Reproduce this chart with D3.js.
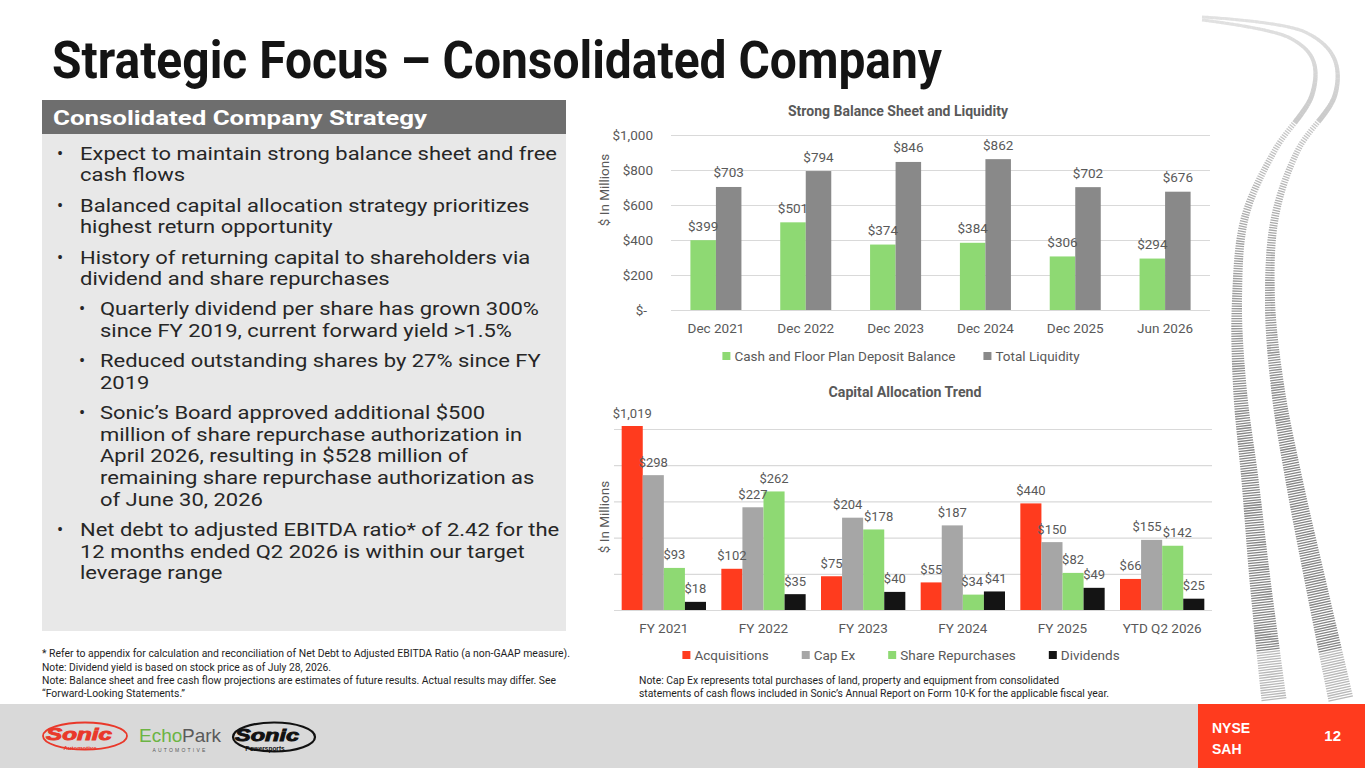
<!DOCTYPE html>
<html>
<head>
<meta charset="utf-8">
<script src="https://cdn.jsdelivr.net/npm/d3@7"></script>
<style>
    html, body { margin: 0; padding: 0; background: #fff; overflow: hidden; }
    svg { display: block; }
</style>
</head>
<body>
<svg id="slide" width="1365" height="768"></svg>
<script>
// ---- chart data ----
var balanceDates = ["Dec 2021", "Dec 2022", "Dec 2023", "Dec 2024", "Dec 2025", "Jun 2026"];
var cashDeposit = [399, 501, 374, 384, 306, 294];
var totalLiquidity = [703, 794, 846, 862, 702, 676];
var balanceTicks = [0, 200, 400, 600, 800, 1000];

var fiscalYears = ["FY 2021", "FY 2022", "FY 2023", "FY 2024", "FY 2025", "YTD Q2 2026"];
var acquisitions = [1019, 102, 75, 55, 440, 66];
var capEx = [298, 227, 204, 187, 150, 155];
var shareRepurchases = [93, 262, 178, 34, 82, 142];
var dividends = [18, 35, 40, 41, 49, 25];
var allocationTicks = [0, 80, 160, 240, 320, 400];

var strategyPoints = [
    { level: 0, lines: ["Expect to maintain strong balance sheet and free", "cash flows"] },
    { level: 0, lines: ["Balanced capital allocation strategy prioritizes", "highest return opportunity"] },
    { level: 0, lines: ["History of returning capital to shareholders via", "dividend and share repurchases"] },
    { level: 1, lines: ["Quarterly dividend per share has grown 300%", "since FY 2019, current forward yield >1.5%"] },
    { level: 1, lines: ["Reduced outstanding shares by 27% since FY", "2019"] },
    { level: 1, lines: ["Sonic\u2019s Board approved additional $500", "million of share repurchase authorization in", "April 2026, resulting in $528 million of", "remaining share repurchase authorization as", "of June 30, 2026"] },
    { level: 0, lines: ["Net debt to adjusted EBITDA ratio* of 2.42 for the", "12 months ended Q2 2026 is within our target", "leverage range"] }
];

var footNotes = [
    "* Refer to appendix for calculation and reconciliation of Net Debt to Adjusted EBITDA Ratio (a non-GAAP measure).",
    "Note: Dividend yield is based on stock price as of July 28, 2026.",
    "Note: Balance sheet and free cash flow projections are estimates of future results. Actual results may differ. See",
    "\u201cForward-Looking Statements.\u201d"
];
var footNoteWidths = [528, 289, 514, 143];

var capExNote = [
    "Note: Cap Ex represents total purchases of land, property and equipment from consolidated",
    "statements of cash flows included in Sonic\u2019s Annual Report on Form 10-K for the applicable fiscal year."
];
var capExNoteWidths = [420, 470];

// ---- look ----
var svg = d3.select("#slide");
var chartFont = "Roboto, 'Noto Sans', sans-serif";
var narrowFont = "'Liberation Sans Narrow', 'Roboto', sans-serif";
var textGrey = "#595959";
var gridGrey = "#D9D9D9";
var green = "#8ED973";
var darkGrey = "#898989";
var lightGrey = "#A6A6A6";
var red = "#FF3B1E";
var black = "#141414";
var money = d3.format(",");

drawTracks();
drawTitle();
drawPanel();
drawBalanceChart();
drawAllocationChart();
drawNotes();
drawFooter();

// tyre tracks behind the charts
function drawTracks() {
    var tracks = [
        [[1202, 20], [1290, 38], [1313, 60], [1312, 95], [1275, 150], [1245, 217], [1237, 300], [1240, 390], [1250, 480], [1260, 580], [1274, 700]],
        [[1202, 17], [1305, 32], [1334, 58], [1335, 95], [1298, 150], [1275, 217], [1270, 300], [1278, 390], [1294, 480], [1315, 580], [1341, 700]]
    ];
    var line = d3.line().curve(d3.curveCatmullRom.alpha(0.5));
    var widthAt = d3.scaleLinear().domain([20, 150, 300, 400, 580, 700]).range([3, 6, 10, 14, 21, 25]).clamp(true);
    var colourAt = d3.scaleLinear().domain([20, 120, 250, 450]).range(["#e0e0e0", "#c8c8c8", "#9c9c9c", "#7f7f7f"]).clamp(true);
    var g = svg.append("g").attr("class", "tracks");

    tracks.forEach(function (pts) {
        var guide = g.append("path").attr("d", line(pts)).attr("fill", "none").attr("stroke", "none");
        var node = guide.node();
        var len = node.getTotalLength();
        var step = 2.5;
        for (var s = 0; s < len; s += step) {
            var p0 = node.getPointAtLength(s);
            var solid = p0.y < 120;
            var p1 = node.getPointAtLength(Math.min(len, s + (solid ? step + 0.3 : 1.3)));
            var ym = (p0.y + p1.y) / 2;
            g.append("line")
                .attr("x1", p0.x).attr("y1", p0.y)
                .attr("x2", p1.x).attr("y2", p1.y)
                .attr("stroke", colourAt(ym))
                .attr("stroke-width", widthAt(ym))
                .attr("opacity", ym > 650 ? 0.55 : 0.95);
        }
    });
}

function drawTitle() {
    svg.append("text")
        .attr("x", 52)
        .attr("y", 78)
        .attr("textLength", 890)
        .attr("lengthAdjust", "spacingAndGlyphs")
        .style("font-family", narrowFont)
        .style("font-weight", "bold")
        .style("font-size", "51px")
        .attr("fill", "#141414")
        .text("Strategic Focus \u2013 Consolidated Company");
}

// left grey panel with bullet points
function drawPanel() {
    svg.append("rect").attr("x", 42).attr("y", 133).attr("width", 524).attr("height", 498).attr("fill", "#E8E8E8");
    svg.append("rect").attr("x", 42).attr("y", 100).attr("width", 524).attr("height", 34).attr("fill", "#6E6E6E");
    svg.append("text")
        .attr("x", 53)
        .attr("y", 117.5)
        .attr("dy", "0.35em")
        .attr("textLength", 374)
        .attr("lengthAdjust", "spacingAndGlyphs")
        .style("font-family", chartFont)
        .style("font-weight", "bold")
        .style("font-size", "20.5px")
        .attr("fill", "#fff")
        .text("Consolidated Company Strategy");

    // the slide's face is wider than Roboto: keep its cap height and widen each line
    // so that the first line spans the same 477px as in the slide
    var bodySize = 18.3;
    var probe = svg.append("text").style("font-family", chartFont).style("font-size", bodySize + "px").text(strategyPoints[0].lines[0]);
    var stretch = 477 / probe.node().getComputedTextLength();
    probe.remove();

    var lineStep = 21.6;
    var paraGap = 8.7;
    var y = 153.3;
    var body = svg.append("g")
        .style("font-family", chartFont)
        .style("font-size", bodySize + "px")
        .attr("fill", "#262626");

    strategyPoints.forEach(function (pt) {
        var textX = pt.level == 0 ? 80 : 100;
        var bulletX = pt.level == 0 ? 57 : 79;
        body.append("text").attr("x", bulletX).attr("y", y).attr("dy", "0.35em").text("\u2022");
        pt.lines.forEach(function (ln) {
            var t = body.append("text").attr("x", textX).attr("y", y).attr("dy", "0.35em").text(ln);
            t.attr("textLength", t.node().getComputedTextLength() * stretch)
                .attr("lengthAdjust", "spacingAndGlyphs");
            y += lineStep;
        });
        y += paraGap;
    });
}

// push apart neighbouring value labels that collide, like the slide does by hand
function spreadLabels(nodes) {
    var boxes = nodes.map((n) => ({ node: n, b: n.getBBox(), shift: 0 }));
    for (var i = 1; i < boxes.length; i++) {
        var a = boxes[i - 1], b = boxes[i];
        var overlapX = (a.b.x + a.b.width + a.shift) - (b.b.x + b.shift) + 1;
        var overlapY = Math.min(a.b.y + a.b.height, b.b.y + b.b.height) - Math.max(a.b.y, b.b.y);
        if (overlapX > 0 && overlapY > 2) {
            a.shift -= overlapX / 2;
            b.shift += overlapX / 2;
        }
    }
    boxes.forEach(function (bx) {
        if (bx.shift != 0) d3.select(bx.node).attr("dx", bx.shift);
    });
}

function drawGroupedChart(c) {
    var g = svg.append("g");
    var x0 = d3.scaleBand()
        .domain(c.categories)
        .range(c.xRange)
        .paddingInner(c.padInner)
        .paddingOuter(c.padInner / 2);
    var x1 = d3.scaleBand()
        .domain(c.series.map((s) => s.name))
        .range([0, x0.bandwidth()]);

    // gridlines and value labels of the y axis
    var yAxis = g.append("g")
        .attr("transform", `translate(${c.xRange[0]},0)`)
        .call(d3.axisLeft(c.y)
            .tickValues(c.ticks)
            .tickSize(-(c.xRange[1] - c.xRange[0]))
            .tickPadding(c.tickPadding)
            .tickFormat((d) => c.showTickLabels ? (d == 0 ? "$-" : "$" + money(d)) : ""));
    yAxis.select(".domain").remove();
    yAxis.selectAll(".tick line").attr("stroke", gridGrey).attr("stroke-width", 1.2);
    yAxis.selectAll(".tick text")
        .attr("fill", textGrey)
        .style("font-family", chartFont)
        .style("font-size", "13.5px")
        .attr("x", (d) => d == 0 ? -c.tickPadding - 6 : -c.tickPadding);

    var rows = c.categories.map(function (cat, i) {
        return {
            cat: cat,
            vals: c.series.map((s) => ({ name: s.name, value: s.values[i], colour: s.colour, scale: s.scale || c.y }))
        };
    });

    var groups = g.selectAll(".group")
        .data(rows)
        .enter()
        .append("g")
        .attr("transform", (d) => `translate(${x0(d.cat)},0)`);

    groups.selectAll("rect")
        .data((d) => d.vals)
        .enter()
        .append("rect")
        .attr("x", (d) => x1(d.name))
        .attr("width", x1.bandwidth())
        .attr("y", (d) => d.scale(d.value))
        .attr("height", (d) => d.scale(0) - d.scale(d.value))
        .attr("fill", (d) => d.colour);

    groups.each(function () {
        var labels = d3.select(this).selectAll(".label")
            .data((d) => d.vals)
            .enter()
            .append("text")
            .attr("class", "label")
            .attr("x", (d) => x1(d.name) + x1.bandwidth() / 2)
            .attr("y", (d) => d.scale(d.value) - c.labelGap)
            .attr("text-anchor", "middle")
            .attr("fill", textGrey)
            .style("font-family", chartFont)
            .style("font-size", c.labelSize + "px")
            .text((d) => "$" + money(d.value));
        spreadLabels(labels.nodes());
    });

    // category axis
    var xAxis = g.append("g")
        .attr("transform", `translate(0,${c.y(0)})`)
        .call(d3.axisBottom(x0).tickSize(0).tickPadding(13));
    xAxis.select(".domain").remove();
    xAxis.selectAll("text")
        .attr("fill", textGrey)
        .style("font-family", chartFont)
        .style("font-size", "13.5px");

    // chart title
    g.append("text")
        .attr("x", c.titleX)
        .attr("y", c.titleY)
        .attr("dy", "0.35em")
        .attr("text-anchor", "middle")
        .attr("textLength", c.titleWidth)
        .attr("lengthAdjust", "spacingAndGlyphs")
        .attr("fill", textGrey)
        .style("font-family", narrowFont)
        .style("font-weight", "bold")
        .style("font-size", "14px")
        .text(c.title);

    // y axis title
    g.append("text")
        .attr("transform", `translate(604,${c.yTitleY}) rotate(-90)`)
        .attr("dy", "0.35em")
        .attr("text-anchor", "middle")
        .attr("fill", textGrey)
        .style("font-family", chartFont)
        .style("font-size", "13.5px")
        .text("$ In Millions");

    // legend, centred under the chart
    var legend = g.append("g");
    var cursor = 0;
    c.series.forEach(function (s, i) {
        var item = legend.append("g").attr("transform", `translate(${cursor},0)`);
        item.append("rect").attr("x", 0).attr("y", c.legendY - 4).attr("width", 8).attr("height", 8).attr("fill", s.colour);
        var t = item.append("text")
            .attr("x", 12)
            .attr("y", c.legendY)
            .attr("dy", "0.35em")
            .attr("fill", textGrey)
            .style("font-family", chartFont)
            .style("font-size", "13.5px")
            .text(s.name);
        cursor += 12 + t.node().getComputedTextLength() + c.legendGap;
    });
    var legendWidth = cursor - c.legendGap;
    legend.attr("transform", `translate(${c.legendCenter - legendWidth / 2},0)`);
}

function drawBalanceChart() {
    var y = d3.scaleLinear().domain([0, 1000]).range([310, 135]);
    drawGroupedChart({
        categories: balanceDates,
        series: [
            { name: "Cash and Floor Plan Deposit Balance", values: cashDeposit, colour: green },
            { name: "Total Liquidity", values: totalLiquidity, colour: darkGrey }
        ],
        xRange: [671, 1210],
        padInner: 0.432,
        y: y,
        ticks: balanceTicks,
        showTickLabels: true,
        tickPadding: 18,
        labelGap: 9.5,
        labelSize: 13.5,
        title: "Strong Balance Sheet and Liquidity",
        titleX: 898,
        titleY: 111,
        titleWidth: 220,
        yTitleY: 190,
        legendY: 356,
        legendCenter: 901,
        legendGap: 28
    });
}

function drawAllocationChart() {
    var y = d3.scaleLinear().domain([0, 400]).range([610, 429]);
    // acquisitions sit on their own compressed (secondary) scale in the slide
    var yAcq = d3.scalePow().exponent(0.65).domain([0, d3.max(acquisitions)]).range([610, 426]);
    drawGroupedChart({
        categories: fiscalYears,
        series: [
            { name: "Acquisitions", values: acquisitions, colour: red, scale: yAcq },
            { name: "Cap Ex", values: capEx, colour: lightGrey },
            { name: "Share Repurchases", values: shareRepurchases, colour: green },
            { name: "Dividends", values: dividends, colour: black }
        ],
        xRange: [614, 1212],
        padInner: 0.154,
        y: y,
        ticks: allocationTicks,
        showTickLabels: false,
        tickPadding: 8,
        labelGap: 8.5,
        labelSize: 13,
        title: "Capital Allocation Trend",
        titleX: 905,
        titleY: 392.5,
        titleWidth: 153,
        yTitleY: 517,
        legendY: 655,
        legendCenter: 901,
        legendGap: 33
    });
}

function drawNotes() {
    var notes = svg.append("g")
        .style("font-family", narrowFont)
        .style("font-size", "11px")
        .attr("fill", "#1e1e1e");

    notes.selectAll(".foot")
        .data(footNotes)
        .enter()
        .append("text")
        .attr("x", 42)
        .attr("y", (d, i) => 653.3 + i * 13.4)
        .attr("dy", "0.35em")
        .attr("textLength", (d, i) => footNoteWidths[i])
        .attr("lengthAdjust", "spacingAndGlyphs")
        .text((d) => d);

    notes.selectAll(".capex")
        .data(capExNote)
        .enter()
        .append("text")
        .attr("x", 639)
        .attr("y", (d, i) => 680.3 + i * 13)
        .attr("dy", "0.35em")
        .attr("textLength", (d, i) => capExNoteWidths[i])
        .attr("lengthAdjust", "spacingAndGlyphs")
        .text((d) => d);
}

function drawFooter() {
    svg.append("rect").attr("x", 0).attr("y", 704).attr("width", 1365).attr("height", 64).attr("fill", "#D9D9D9");
    svg.append("rect").attr("x", 1198).attr("y", 704).attr("width", 167).attr("height", 64).attr("fill", red);

    var boxText = svg.append("g")
        .style("font-family", "'Liberation Sans', Arial, sans-serif")
        .style("font-weight", "bold")
        .style("font-size", "14px")
        .attr("fill", "#fff");
    boxText.append("text").attr("x", 1212).attr("y", 728).attr("dy", "0.35em").text("NYSE");
    boxText.append("text").attr("x", 1212).attr("y", 749).attr("dy", "0.35em").text("SAH");
    boxText.append("text").attr("x", 1341).attr("y", 736).attr("dy", "0.35em").attr("text-anchor", "end").style("font-size", "15px").text("12");

    drawLogos();
}

// rough stand-ins for the three brand marks
function drawLogos() {
    var logo = svg.append("g").style("font-family", "'Liberation Sans', Arial, sans-serif");
    var sonicRed = "#E9382A";

    logo.append("ellipse").attr("cx", 85).attr("cy", 736).attr("rx", 42).attr("ry", 13.5)
        .attr("fill", "none").attr("stroke", sonicRed).attr("stroke-width", 1.8);
    logo.append("text").attr("x", 79).attr("y", 740).attr("text-anchor", "middle")
        .attr("textLength", 66).attr("lengthAdjust", "spacingAndGlyphs")
        .style("font-style", "italic").style("font-weight", "bold").style("font-size", "17px")
        .attr("fill", sonicRed).attr("stroke", sonicRed).attr("stroke-width", 0.9).text("Sonic");
    logo.append("text").attr("x", 80).attr("y", 750).attr("text-anchor", "middle")
        .style("font-weight", "bold").style("font-size", "6px").attr("fill", sonicRed).text("Automotive");

    logo.append("text").attr("x", 139).attr("y", 742)
        .style("font-size", "19px").attr("fill", "#6CB444").text("Echo");
    logo.append("text").attr("x", 182).attr("y", 742)
        .style("font-size", "19px").attr("fill", "#5a5a5a").text("Park");
    logo.append("text").attr("x", 180).attr("y", 752).attr("text-anchor", "middle")
        .style("font-size", "5px").style("letter-spacing", "2.2px").attr("fill", "#5a5a5a").text("AUTOMOTIVE");

    logo.append("ellipse").attr("cx", 274).attr("cy", 737).attr("rx", 41).attr("ry", 14.5)
        .attr("fill", "none").attr("stroke", "#111").attr("stroke-width", 2.2);
    logo.append("text").attr("x", 267).attr("y", 740.5).attr("text-anchor", "middle")
        .attr("textLength", 64).attr("lengthAdjust", "spacingAndGlyphs")
        .style("font-style", "italic").style("font-weight", "bold").style("font-size", "17px")
        .attr("fill", "#111").attr("stroke", "#111").attr("stroke-width", 0.9).text("Sonic");
    logo.append("text").attr("x", 265).attr("y", 750.5).attr("text-anchor", "middle")
        .style("font-weight", "bold").style("font-size", "6.5px").attr("fill", "#111").text("Powersports");
}
</script>
</body>
</html>
